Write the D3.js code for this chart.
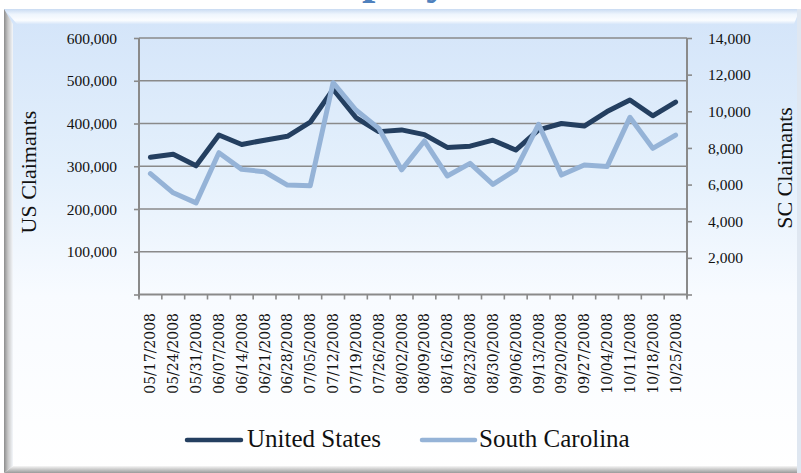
<!DOCTYPE html>
<html><head><meta charset="utf-8">
<script src="https://cdn.jsdelivr.net/npm/d3@7"></script>
<style>html,body{margin:0;padding:0;background:#fff;}svg{display:block;}</style>
</head><body>
<script>
const categories = ["05/17/2008","05/24/2008","05/31/2008","06/07/2008","06/14/2008","06/21/2008","06/28/2008","07/05/2008","07/12/2008","07/19/2008","07/26/2008","08/02/2008","08/09/2008","08/16/2008","08/23/2008","08/30/2008","09/06/2008","09/13/2008","09/20/2008","09/27/2008","10/04/2008","10/11/2008","10/18/2008","10/25/2008"];
const usValues = [321000,328000,301000,373000,351000,361000,370000,403000,480000,414000,381000,385000,374000,344000,347000,361000,338000,385000,400000,394000,428000,455000,418000,450000];
const scValues = [6600,5550,5000,7740,6830,6700,5970,5940,11560,10070,9070,6800,8380,6470,7160,6010,6800,9290,6520,7070,6980,9670,7980,8700];
const usTicks = [0,100000,200000,300000,400000,500000,600000];
const scTicks = [0,2000,4000,6000,8000,10000,12000,14000];
const seriesNames = ["United States","South Carolina"];
const titleText = "Unemployment";
</script>
<script>
const W=801,H=473;
const svg=d3.select("body").append("svg").attr("width",W).attr("height",H);
const defs=svg.append("defs");
const bg=defs.append("linearGradient").attr("id","bg").attr("x1",0).attr("y1",0).attr("x2",0).attr("y2",1);
bg.append("stop").attr("offset","0").attr("stop-color","#d3e4f9");
bg.append("stop").attr("offset","0.35").attr("stop-color","#e4f0fc");
bg.append("stop").attr("offset","0.62").attr("stop-color","#f8fbff");
bg.append("stop").attr("offset","1").attr("stop-color","#ffffff");
const tb=defs.append("linearGradient").attr("id","tb").attr("x1",0).attr("y1",0).attr("x2",0).attr("y2",1);
tb.append("stop").attr("offset","0").attr("stop-color","#c9dbf2");
tb.append("stop").attr("offset","0.35").attr("stop-color","#eef5fd");
tb.append("stop").attr("offset","0.75").attr("stop-color","#fbfdff");
tb.append("stop").attr("offset","1").attr("stop-color","#d8e7f9");
const lb=defs.append("linearGradient").attr("id","lb").attr("x1",0).attr("y1",0).attr("x2",1).attr("y2",0);
lb.append("stop").attr("offset","0").attr("stop-color","#8c8c8c");
lb.append("stop").attr("offset","0.45").attr("stop-color","#c8c8c8");
lb.append("stop").attr("offset","1").attr("stop-color","#f4f7fb");
const bb=defs.append("linearGradient").attr("id","bb").attr("x1",0).attr("y1",0).attr("x2",0).attr("y2",1);
bb.append("stop").attr("offset","0").attr("stop-color","#f6f6f6");
bb.append("stop").attr("offset","1").attr("stop-color","#9a9a9a");

// title (mostly cut off above the frame, as in the reference)
const title=svg.append("text").attr("y",-7).attr("font-family","Liberation Serif").attr("font-weight","bold")
 .attr("font-size",48).attr("fill","#4f81bd").text(titleText);
const off=title.node().getSubStringLength(0,4);
title.attr("x",362-off);

// frame
svg.append("rect").attr("x",4).attr("y",9).attr("width",796).attr("height",464).attr("fill","url(#bg)");
svg.append("polygon").attr("points","4,9 800,9 794,24 17,24").attr("fill","url(#tb)");
svg.append("polygon").attr("points","4,9 13,24 13,466 4,473").attr("fill","url(#lb)");
svg.append("polygon").attr("points","4,473 13,466 800,466 800,473").attr("fill","url(#bb)");
svg.append("rect").attr("x",797).attr("y",9).attr("width",4).attr("height",464).attr("fill","#dfe7f1");

const L=139,R=687,T=38,B=294.5;
const x=d3.scaleBand().domain(categories).range([L,R]).padding(0);
const yL=d3.scaleLinear().domain([0,600000]).range([B,T]);
const yR=d3.scaleLinear().domain([0,14000]).range([B,T]);
const gray="#8a8a8a";

// gridlines
svg.append("g").selectAll("line").data(usTicks.filter(d=>d>0)).join("line")
 .attr("x1",L).attr("x2",R).attr("y1",d=>yL(d)).attr("y2",d=>yL(d))
 .attr("stroke",gray).attr("stroke-width",1.6);

// left axis
const ga=svg.append("g").attr("transform",`translate(${L},0)`)
 .call(d3.axisLeft(yL).tickValues(usTicks).tickSize(5).tickPadding(17).tickFormat(d=>d===0?"":d3.format(",")(d)));
ga.select(".domain").remove();
ga.selectAll(".tick line").attr("stroke",gray).attr("stroke-width",1.6);
ga.selectAll("text").attr("font-family","Liberation Serif").attr("font-size",15.5).attr("fill","#111").attr("dy","0.33em");
svg.append("line").attr("x1",L).attr("x2",L).attr("y1",T).attr("y2",B+3).attr("stroke",gray).attr("stroke-width",2);

// right axis
const gr=svg.append("g").attr("transform",`translate(${R},0)`)
 .call(d3.axisRight(yR).tickValues(scTicks).tickSize(5).tickPadding(16).tickFormat(d=>d===0?"":d3.format(",")(d)));
gr.select(".domain").remove();
gr.selectAll(".tick line").attr("stroke",gray).attr("stroke-width",1.6);
gr.selectAll("text").attr("font-family","Liberation Serif").attr("font-size",15.5).attr("fill","#111").attr("dy","0.33em");
svg.append("line").attr("x1",R).attr("x2",R).attr("y1",T).attr("y2",B+3).attr("stroke",gray).attr("stroke-width",2);

// x axis
svg.append("line").attr("x1",L).attr("x2",R).attr("y1",B).attr("y2",B).attr("stroke",gray).attr("stroke-width",2);
const bounds=categories.map(d=>x(d)).concat([R]);
svg.append("g").selectAll("line").data(bounds).join("line")
 .attr("x1",d=>d).attr("x2",d=>d).attr("y1",B).attr("y2",B+5).attr("stroke",gray).attr("stroke-width",1.6);
svg.append("g").selectAll("text").data(categories).join("text")
 .attr("transform",d=>`translate(${x(d)+x.bandwidth()/2},313) rotate(-90)`)
 .attr("text-anchor","end").attr("dy","0.36em")
 .attr("font-family","DejaVu Serif").attr("font-size",14).attr("fill","#111").text(d=>d);

// axis titles
svg.append("text").attr("transform","translate(28,172) rotate(-90)").attr("text-anchor","middle").attr("dy","0.35em")
 .attr("font-family","Liberation Serif").attr("font-size",22).attr("fill","#111").text("US Claimants");
svg.append("text").attr("transform","translate(784,168) rotate(-90)").attr("text-anchor","middle").attr("dy","0.35em")
 .attr("font-family","Liberation Serif").attr("font-size",22).attr("fill","#111").text("SC Claimants");

// lines
const cx=d=>x(d)+x.bandwidth()/2;
const lineUS=d3.line().x((d,i)=>cx(categories[i])).y(d=>yL(d));
const lineSC=d3.line().x((d,i)=>cx(categories[i])).y(d=>yR(d));
svg.append("path").attr("d",lineUS(usValues)).attr("fill","none").attr("stroke","#243f60").attr("stroke-width",5).attr("stroke-linejoin","round").attr("stroke-linecap","round");
svg.append("path").attr("d",lineSC(scValues)).attr("fill","none").attr("stroke","#95b3d7").attr("stroke-width",5).attr("stroke-linejoin","round").attr("stroke-linecap","round");

// legend
const leg=[{n:seriesNames[0],c:"#243f60",x1:187,x2:241,tx:247},{n:seriesNames[1],c:"#95b3d7",x1:422,x2:475,tx:479}];
leg.forEach(l=>{
 svg.append("line").attr("x1",l.x1).attr("x2",l.x2).attr("y1",440).attr("y2",440).attr("stroke",l.c).attr("stroke-width",4.5).attr("stroke-linecap","round");
 svg.append("text").attr("x",l.tx).attr("y",447).attr("font-family","Liberation Serif").attr("font-size",25).attr("fill","#111").text(l.n);
});
</script>
</body></html>
